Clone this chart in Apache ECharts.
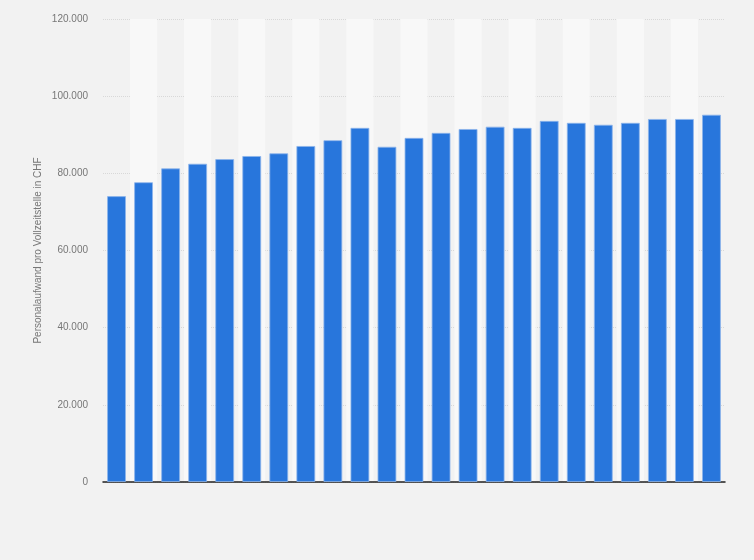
<!DOCTYPE html>
<html>
<head>
<meta charset="utf-8">
<script src="https://cdn.jsdelivr.net/npm/echarts@6/dist/echarts.min.js"></script>
<style>
  html, body { margin: 0; padding: 0; background: #f2f2f2; }
  #chart { width: 754px; height: 560px; }
</style>
</head>
<body>
<div id="chart"></div>
<script>
// categories (no labels are shown in the original)
const years = ['2000', '2001', '2002', '2003', '2004', '2005', '2006', '2007', '2008', '2009', '2010', '2011',
    '2012', '2013', '2014', '2015', '2016', '2017', '2018', '2019', '2020', '2021', '2022'];
// Personalaufwand pro Vollzeitstelle in CHF
const costs = [74100, 77700, 81300, 82500, 83700, 84500, 85200, 87100, 88600, 91800, 86900, 89200,
    90500, 91500, 92100, 91800, 93600, 93100, 92600, 93100, 94100, 94100, 95200];
const yTicks = [0, 20000, 40000, 60000, 80000, 100000, 120000];

function formatNum(v) {
    return String(v).replace(/\B(?=(\d{3})+(?!\d))/g, '.');
}

const chart = echarts.init(document.getElementById('chart'));

const option = {
    backgroundColor: '#f2f2f2',
    animation: false,
    grid: { left: 103, right: 29, top: 19, bottom: 78 },
    xAxis: {
        type: 'category',
        data: years,
        axisLine: { lineStyle: { color: '#222', width: 1.5 } },
        axisTick: { show: false },
        axisLabel: { show: false, interval: 0 },
        splitArea: { show: true, interval: 0, areaStyle: { color: ['rgba(0,0,0,0)', '#f8f8f8'] } }
    },
    yAxis: {
        type: 'value',
        min: yTicks[0],
        max: yTicks[yTicks.length - 1],
        interval: 20000,
        name: 'Personalaufwand pro Vollzeitstelle in CHF',
        nameLocation: 'middle',
        nameGap: 60,
        nameMoveOverlap: false,
        nameTextStyle: { color: '#777', fontSize: 10, fontFamily: 'Arial, Liberation Sans' },
        axisLine: { show: false },
        axisTick: { show: false },
        axisLabel: {
            color: '#777',
            fontSize: 10,
            fontFamily: 'Arial, Liberation Sans',
            margin: 15,
            formatter: v => formatNum(v)
        },
        splitLine: { lineStyle: { color: '#d8d8d8', type: 'dotted' } }
    },
    series: [
        {
            type: 'bar',
            data: costs,
            barCategoryGap: '30%',
            itemStyle: {
                color: '#2876dc',
                borderColor: 'rgba(140,180,235,0.8)',
                borderWidth: 1
            }
        }
    ]
};

chart.setOption(option);
</script>
</body>
</html>
